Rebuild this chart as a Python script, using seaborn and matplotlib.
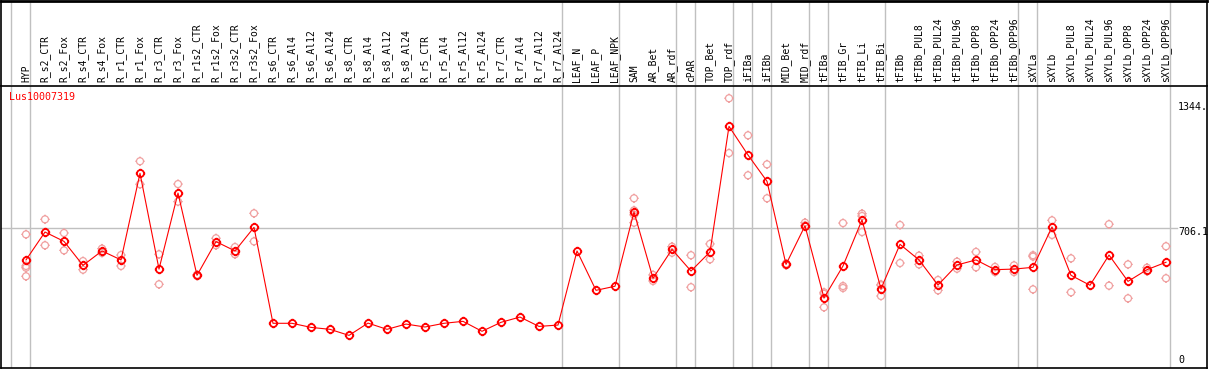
import matplotlib
matplotlib.use("Agg")
import matplotlib.pyplot as plt
import matplotlib.transforms as mtransforms
from matplotlib.path import Path
import numpy as np
import pandas as pd
import seaborn as sns

# sample names, in plotting order
samples = [
    "HYP", "R_s2_CTR", "R_s2_Fox", "R_s4_CTR", "R_s4_Fox", "R_r1_CTR", "R_r1_Fox",
    "R_r3_CTR", "R_r3_Fox", "R_r1s2_CTR", "R_r1s2_Fox", "R_r3s2_CTR", "R_r3s2_Fox",
    "R_s6_CTR", "R_s6_Al4", "R_s6_Al12", "R_s6_Al24", "R_s8_CTR", "R_s8_Al4",
    "R_s8_Al12", "R_s8_Al24", "R_r5_CTR", "R_r5_Al4", "R_r5_Al12", "R_r5_Al24",
    "R_r7_CTR", "R_r7_Al4", "R_r7_Al12", "R_r7_Al24", "LEAF_N", "LEAF_P", "LEAF_NPK",
    "SAM", "AR_Bet", "AR_rdf", "cPAR", "TOP_Bet", "TOP_rdf", "iFIBa", "iFIBb",
    "MID_Bet", "MID_rdf", "tFIBa", "tFIB_Gr", "tFIB_Li", "tFIB_Bi", "tFIBb",
    "tFIBb_PUL8", "tFIBb_PUL24", "tFIBb_PUL96", "tFIBb_OPP8", "tFIBb_OPP24",
    "tFIBb_OPP96", "sXYLa", "sXYLb", "sXYLb_PUL8", "sXYLb_PUL24", "sXYLb_PUL96",
    "sXYLb_OPP8", "sXYLb_OPP24", "sXYLb_OPP96",
]

# mean expression per sample
means = [
    544, 687, 639, 516, 590, 544, 988, 497, 887, 465, 638, 590, 711,
    219, 219, 198, 188, 157, 220, 188, 215, 200, 219, 229, 178, 224, 251, 203, 210,
    590, 388, 409,
    790, 450, 598, 487, 585,
    1229, 1082, 947, 521, 719,
    349, 513, 749, 396, 624,
    544, 415, 518, 544, 494, 497,
    506, 713, 465, 414, 569, 434, 494, 532,
]

# replicate values per sample (empty where hidden behind the mean)
replicates = [
    [675, 513, 504, 460], [752, 619], [682, 593], [538, 494], [602, 580],
    [569, 513], [1050, 932], [573, 419], [933, 843], [468, 462], [655, 619],
    [610, 573], [783, 639],
    [], [], [], [], [], [], [], [], [], [], [], [], [], [], [], [],
    [], [], [],
    [860, 798, 775, 735], [467, 436], [612, 581], [568, 404], [626, 547],
    [1373, 1092], [1183, 978], [1034, 860], [525, 517], [735, 721],
    [378, 370, 301], [733, 410, 400], [781, 769, 687], [414, 418, 359], [723, 528],
    [566, 521], [441, 388], [535, 499], [585, 506], [508, 482], [516, 482],
    [568, 561, 393], [747, 672], [552, 378], [], [727, 412], [521, 347],
    [504, 486], [614, 450],
]

# first sample of each tissue group, plus the end
group_starts = [0, 1, 29, 32, 35, 36, 38, 39, 40, 42, 43, 46, 53, 54, 61]

gene = "Lus10007319"
ref_value = 706.1
tick_labels = ["1344.", "706.1", "0"]
tick_values = [1344.0, 706.1, 0.0]

RED = "#ff0000"
PINK = "#f0a0a0"
GRID = "#c0c0c0"

plt.rcParams["font.family"] = ["DejaVu Sans Mono", "DejaVu Sans"]

W, H = 1209, 370
fig = plt.figure(figsize=(W / 100, H / 100), dpi=100)

# pixel layout of the original
left_px, right_px = 1, 1207
x0_px, step_px = 26, 19
xlim = ((left_px - x0_px) / step_px, (right_px - x0_px) / step_px)
ax = fig.add_axes([left_px / W, 2 / H, (right_px - left_px) / W, 282 / H])
lab = fig.add_axes([left_px / W, 285 / H, (right_px - left_px) / W, 84.5 / H])

# circle with small outer ticks, like the original marker
circ = Path.unit_circle()
verts = list(circ.vertices)
codes = list(circ.codes)
for dx, dy in [(1, 0), (-1, 0), (0, 1), (0, -1)]:
    verts += [(dx * 1.0, dy * 1.0), (dx * 1.35, dy * 1.35)]
    codes += [Path.MOVETO, Path.LINETO]
tick_marker = Path(verts, codes)

idx = np.arange(len(samples))
rep_df = pd.DataFrame(
    [(i, v) for i, vals in enumerate(replicates) for v in vals],
    columns=["idx", "value"],
)

for a in (ax, lab):
    for s in group_starts:
        a.axvline(s - 0.78, color=GRID, lw=1, zorder=0)
    a.set_xlim(*xlim)
    a.set_xticks([])
    a.set_yticks([])
    for sp in a.spines.values():
        sp.set_color("black")
        sp.set_linewidth(1.2)
lab.spines["bottom"].set_visible(False)
lab.spines["top"].set_linewidth(2)

ax.axhline(ref_value, xmin=0, xmax=(1177 - left_px) / (right_px - left_px),
           color=GRID, lw=1, zorder=0)

sns.scatterplot(data=rep_df, x="idx", y="value", ax=ax, marker=tick_marker,
                s=46, color=PINK, linewidth=0.9, zorder=2, legend=False)
ax.collections[-1].set_facecolor("none")
ax.collections[-1].set_edgecolor(PINK)

sns.lineplot(x=idx, y=means, ax=ax, color=RED, lw=0.8, marker=tick_marker,
             markersize=6.8, markerfacecolor="none", markeredgecolor=RED,
             markeredgewidth=1.3, zorder=3)

ax.set_ylim((366 - 368) * 5.128, (366 - 86) * 5.128)
ax.set_xlabel("")
ax.set_ylabel("")

ax.text(0.0069, 0.961, gene, transform=ax.transAxes, color=RED,
        fontsize=7.2, va="center", ha="left")

# right-hand value labels
trans = mtransforms.blended_transform_factory(fig.transFigure, ax.transData)
for lbl, val in zip(tick_labels, tick_values):
    if val == 0:
        t = mtransforms.offset_copy(trans, fig=fig, y=0.5, units="points")
        ax.text(1178 / W, val, lbl, transform=t, fontsize=7.2, va="bottom", ha="left")
    else:
        t = mtransforms.offset_copy(trans, fig=fig, y=-2.5, units="points")
        ax.text(1178 / W, val, lbl, transform=t, fontsize=7.2, va="center", ha="left")

# rotated sample labels
ltrans = mtransforms.blended_transform_factory(lab.transData, lab.transAxes)
for i, name in enumerate(samples):
    lab.text(i, 0.03, name, transform=ltrans, rotation=90, fontsize=7.0,
             ha="center", va="bottom")

fig.savefig("out.png", dpi=100)
